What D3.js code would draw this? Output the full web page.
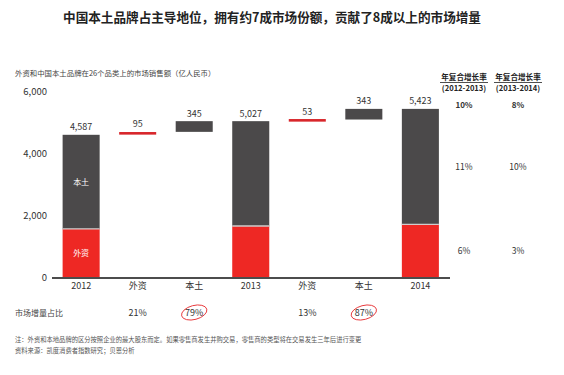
<!DOCTYPE html>
<html>
<head>
<meta charset="utf-8">
<script src="https://cdn.jsdelivr.net/npm/d3@7"></script>
<style>
  body { margin: 0; background: #fff; }
  text { font-family: "Noto Sans CJK SC", "Noto Sans", sans-serif; }
</style>
</head>
<body>
<svg width="564" height="375"></svg>
<script>
// data
let categories = ["2012", "外资", "本土", "2013", "外资", "本土", "2014"];
let years = ["2012", "2013", "2014"];
let foreignSales = [1550, 1645, 1698];
let localSales = [3037, 3382, 3725];
let foreignGrowth = [95, 53];
let localGrowth = [345, 343];
let growthShare = ["21%", "79%", "13%", "87%"];
let yTicks = [0, 2000, 4000, 6000];
let cagrHeaders = [["年复合增长率", "(2012-2013)"], ["年复合增长率", "(2013-2014)"]];
let cagrTotal = ["10%", "8%"];
let cagrLocal = ["11%", "10%"];
let cagrForeign = ["6%", "3%"];

let dark = "#4b494a", red = "#ee2824", redLine = "#d8262b", txt = "#333";

let svg = d3.select("svg");

let x = d3.scaleBand()
  .domain(d3.range(categories.length))
  .range([53, 448.5])
  .paddingInner(0.345)
  .paddingOuter(0.17);

let y = d3.scaleLinear().domain([0, 6000]).range([277, 91]);

// title
svg.append("text")
  .attr("x", 272).attr("y", 22)
  .attr("text-anchor", "middle")
  .attr("font-size", 12.6).attr("font-weight", "bold").attr("fill", "#222")
  .text("中国本土品牌占主导地位，拥有约7成市场份额，贡献了8成以上的市场增量");

svg.append("text")
  .attr("x", 15).attr("y", 76)
  .attr("font-size", 7.4).attr("fill", "#444")
  .text("外资和中国本土品牌在26个品类上的市场销售额（亿人民币）");

// y axis labels
let yAxis = d3.axisLeft(y).tickValues(yTicks).tickSize(0).tickPadding(0)
  .tickFormat(d3.format(","));
let ya = svg.append("g").attr("transform", "translate(47,0)").call(yAxis);
ya.select(".domain").remove();
ya.selectAll("text").attr("font-size", 9.5).attr("fill", txt)
  .style("font-family", "'Noto Sans CJK SC', sans-serif");

// build waterfall segments
let totals = years.map((d, i) => foreignSales[i] + localSales[i]);
let segs = [];
years.forEach(function (yr, i) {
  let k = i * 3;
  segs.push({ idx: k, y0: 0, y1: foreignSales[i], fill: red, label: null, inner: i === 0 ? "外资" : null });
  segs.push({ idx: k, y0: foreignSales[i], y1: totals[i], fill: dark, label: null, inner: i === 0 ? "本土" : null });
  segs.push({ idx: k, y0: totals[i], y1: totals[i], fill: "none", label: d3.format(",")(totals[i]) });
  if (i < years.length - 1) {
    let fTop = totals[i] + foreignGrowth[i];
    segs.push({ idx: k + 1, y0: totals[i], y1: fTop, fill: redLine, label: String(foreignGrowth[i]), line: true });
    segs.push({ idx: k + 2, y0: fTop, y1: fTop + localGrowth[i], fill: dark, label: String(localGrowth[i]) });
  }
});

let g = svg.append("g");
g.selectAll("rect.bar")
  .data(segs.filter(d => d.fill !== "none"))
  .enter().append("rect")
  .attr("class", "bar")
  .attr("x", d => x(d.idx))
  .attr("width", x.bandwidth())
  .attr("y", d => d.line ? (y(d.y0) + y(d.y1)) / 2 - 1.3 : y(d.y1))
  .attr("height", d => d.line ? 2.6 : y(d.y0) - y(d.y1))
  .attr("fill", d => d.fill);

// thin light separator between foreign and local parts
g.selectAll("line.sep")
  .data(years)
  .enter().append("line")
  .attr("x1", (d, i) => x(i * 3)).attr("x2", (d, i) => x(i * 3) + x.bandwidth())
  .attr("y1", (d, i) => y(foreignSales[i])).attr("y2", (d, i) => y(foreignSales[i]))
  .attr("stroke", "#d0cccc").attr("stroke-width", 1.3);

// value labels
g.selectAll("text.val")
  .data(segs.filter(d => d.label))
  .enter().append("text")
  .attr("x", d => x(d.idx) + x.bandwidth() / 2)
  .attr("y", d => Math.min(y(d.y1), y(d.y0)) - 4.5)
  .attr("text-anchor", "middle")
  .attr("font-size", 9).attr("fill", txt)
  .text(d => d.label);

// labels inside first bar
g.selectAll("text.inner")
  .data(segs.filter(d => d.inner))
  .enter().append("text")
  .attr("x", d => x(d.idx) + x.bandwidth() / 2)
  .attr("y", d => (y(d.y0) + y(d.y1)) / 2 + 3)
  .attr("text-anchor", "middle")
  .attr("font-size", 8).attr("fill", "#fff")
  .text(d => d.inner);

// x axis
let xAxis = d3.axisBottom(x).tickSize(0).tickPadding(5)
  .tickFormat(i => categories[i]);
let xa = svg.append("g").attr("transform", "translate(0," + 278 + ")").call(xAxis);
xa.select(".domain").attr("d", "M52,0H450").attr("stroke", "#111").attr("stroke-width", 1.6);
xa.selectAll("text").attr("font-size", 9).attr("fill", txt)
  .style("font-family", "'Noto Sans CJK SC', sans-serif");

// growth share row
svg.append("text")
  .attr("x", 15).attr("y", 316)
  .attr("font-size", 8).attr("fill", "#444")
  .text("市场增量占比");

let shareIdx = [1, 2, 4, 5];
svg.selectAll("text.share")
  .data(growthShare)
  .enter().append("text")
  .attr("x", (d, i) => x(shareIdx[i]) + x.bandwidth() / 2)
  .attr("y", 316)
  .attr("text-anchor", "middle")
  .attr("font-size", 9).attr("fill", txt)
  .text(d => d);

svg.selectAll("ellipse.circ")
  .data(growthShare.filter((d, i) => i % 2 === 1))
  .enter().append("ellipse")
  .attr("transform", (d, i) => "translate(" + (x(shareIdx[i * 2 + 1]) + x.bandwidth() / 2) + ",312.5) rotate(-15)")
  .attr("rx", 13).attr("ry", 7)
  .attr("fill", "none").attr("stroke", "#e8373a").attr("stroke-width", 0.9);

// CAGR columns
let colX = [464, 518];
let hdr = svg.append("g");
cagrHeaders.forEach(function (h, i) {
  hdr.append("text").attr("x", colX[i]).attr("y", 80)
    .attr("text-anchor", "middle").attr("font-size", 7.6).attr("font-weight", "bold").attr("fill", "#222")
    .text(h[0]);
  hdr.append("line").attr("x1", colX[i] - 24).attr("x2", colX[i] + 24)
    .attr("y1", 82.5).attr("y2", 82.5).attr("stroke", "#222").attr("stroke-width", 0.8);
  hdr.append("text").attr("x", colX[i]).attr("y", 91)
    .attr("text-anchor", "middle").attr("font-size", 7.6).attr("font-weight", "bold").attr("fill", "#222")
    .text(h[1]);
});

let last = years.length - 1;
let rows = [
  { vals: cagrTotal, yv: y(totals[last]) - 4, bold: true },
  { vals: cagrLocal, yv: y((foreignSales[last] + totals[last]) / 2), bold: false },
  { vals: cagrForeign, yv: y(foreignSales[last] / 2), bold: false }
];
rows.forEach(function (r) {
  svg.selectAll(null)
    .data(r.vals)
    .enter().append("text")
    .attr("x", (d, i) => colX[i])
    .attr("y", r.yv + 3)
    .attr("text-anchor", "middle")
    .attr("font-size", r.bold ? 8 : 8.5)
    .attr("font-weight", r.bold ? "bold" : "normal")
    .attr("fill", txt)
    .text(d => d);
});

// footnotes
svg.append("text")
  .attr("x", 15).attr("y", 342)
  .attr("font-size", 6.3).attr("fill", "#555")
  .text("注：外资和本地品牌的区分按照企业的最大股东而定。如果零售商发生并购交易，零售商的类型将在交易发生三年后进行变更");
svg.append("text")
  .attr("x", 15).attr("y", 353)
  .attr("font-size", 6.3).attr("fill", "#555")
  .text("资料来源：凯度消费者指数研究；贝恩分析");
</script>
</body>
</html>
